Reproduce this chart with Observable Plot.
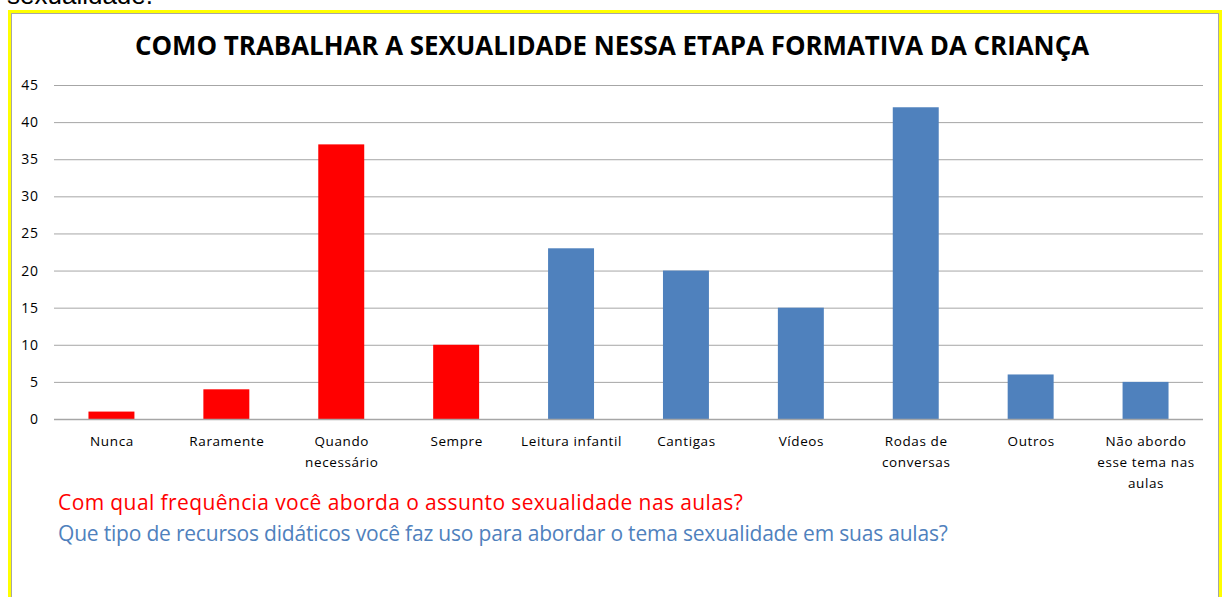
<!DOCTYPE html>
<html><head><meta charset="utf-8">
<script src="https://cdn.jsdelivr.net/npm/d3@7"></script>
<script src="https://cdn.jsdelivr.net/npm/@observablehq/plot@0.6"></script>
<style>
html,body{margin:0;padding:0;background:#fff;overflow:hidden;}
body{width:1224px;height:597px;position:relative;font-family:"Open Sans",Lato,sans-serif;}
#top{position:absolute;left:7px;top:-20px;font-family:"Liberation Sans",Arial,sans-serif;font-size:26px;color:#000;}
#outer{position:absolute;left:8px;top:10px;width:1208px;height:600px;border:3px solid #ffff00;}
#inner{position:absolute;left:0;top:0;width:1206px;height:600px;border:1px solid #a6a6a6;}
#title{position:absolute;left:0;width:1224px;top:29px;text-align:center;font-weight:bold;font-size:25.9px;line-height:32px;color:#000;}
#chart{position:absolute;left:0;top:0;}
#chart svg text{letter-spacing:0.6px;}
.leg{position:absolute;left:58px;font-size:21px;line-height:28px;}
#l1{top:488px;color:#ff0000;letter-spacing:0.4px;}
#l2{top:519px;color:#4f81bd;letter-spacing:-0.2px;}
</style></head><body>
<div id="top">sexualidade.</div>
<div id="outer"><div id="inner"></div></div>
<div id="chart"></div>
<div id="title">COMO TRABALHAR A SEXUALIDADE NESSA ETAPA FORMATIVA DA CRIANÇA</div>
<div class="leg" id="l1">Com qual frequência você aborda o assunto sexualidade nas aulas?</div>
<div class="leg" id="l2">Que tipo de recursos didáticos você faz uso para abordar o tema sexualidade em suas aulas?</div>
<script>
const categories = ["Nunca","Raramente","Quando\nnecessário","Sempre","Leitura infantil","Cantigas","Vídeos","Rodas de\nconversas","Outros","Não abordo\nesse tema nas\naulas"];
const values = [1,4,37,10,23,20,15,42,6,5];
const groups = ["freq","freq","freq","freq","rec","rec","rec","rec","rec","rec"];
const yTicks = [0,5,10,15,20,25,30,35,40,45];
const colors = {freq:"#ff0000", rec:"#4f81bd"};
const data = categories.map((c,i)=>({cat:c, value:values[i], group:groups[i]}));

const chart = Plot.plot({
  width:1224, height:500,
  marginLeft:54, marginRight:21, marginTop:85, marginBottom:81,
  style:{fontFamily:"'Open Sans', Lato, sans-serif", fontSize:"13.5px", color:"#000", background:"transparent", overflow:"visible"},
  x:{domain:categories, paddingInner:0.6, paddingOuter:0.3, round:false, axis:null},
  y:{domain:[0,45], ticks:yTicks, axis:null},
  marks:[
    Plot.ruleY(yTicks.filter(t=>t>0), {stroke:"#a6a6a6", strokeWidth:1, strokeOpacity:1}),
    Plot.barY(data, {x:"cat", y:"value", fill:d=>colors[d.group]}),
    Plot.ruleY([0], {stroke:"#a6a6a6", strokeWidth:1.5}),
    Plot.ruleX([0], {x:()=>0, frameAnchor:"left", stroke:"#a6a6a6"}),
    Plot.text(yTicks, {frameAnchor:"left", y:d=>d, text:d=>String(d), textAnchor:"end", dx:-16, fontSize:14, fill:"#000"}),
    Plot.text(data, {x:"cat", y:0, text:"cat", lineAnchor:"top", dy:12, lineHeight:1.55, fontSize:13.5, fill:"#000"})
  ]
});
document.getElementById("chart").appendChild(chart);
</script>
</body></html>
